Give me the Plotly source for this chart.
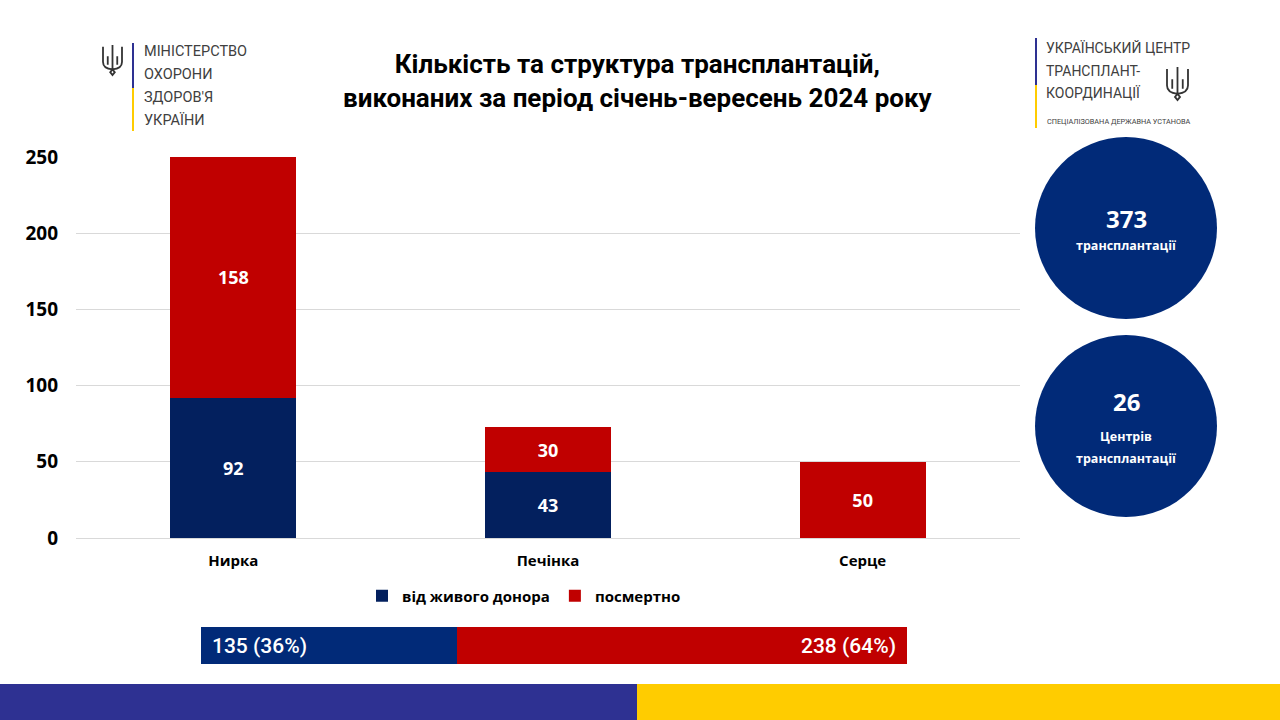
import plotly.graph_objects as go

# ---------------- data ----------------
organs = ["Нирка", "Печінка", "Серце"]
living_donor = [92, 43, 0]
deceased = [158, 30, 50]
series_names = ["від живого донора", "посмертно"]
total_transplants = 373
centers_count = 26
y_ticks = [0, 50, 100, 150, 200, 250]

title_lines = ["Кількість та структура трансплантацій,",
               "виконаних за період січень-вересень 2024 року"]

NAVY = "#03205E"
RED = "#C00000"
CIRCLE = "#012A78"
SUM_NAVY = "#012A78"

W, H = 1280, 720
def px(x): return x / W
def py(y): return 1 - y / H

fig = go.Figure()

bar_font = dict(color="white", size=18, family="Open Sans", weight="bold")
fig.add_trace(go.Bar(
    x=organs, y=living_donor, name=series_names[0], marker_color=NAVY,
    marker_line_width=0,
    text=[str(v) if v else "" for v in living_donor],
    textposition="inside", insidetextanchor="middle", textangle=0,
    textfont=bar_font, xaxis="x", yaxis="y"))
fig.add_trace(go.Bar(
    x=organs, y=deceased, name=series_names[1], marker_color=RED,
    marker_line_width=0,
    text=[str(v) if v else "" for v in deceased],
    textposition="inside", insidetextanchor="middle", textangle=0,
    textfont=bar_font, xaxis="x", yaxis="y"))

# summary bar
sum_living = sum(living_donor)
sum_dec = sum(deceased)
tot = sum_living + sum_dec
fig.add_trace(go.Bar(
    y=[0], x=[sum_living], orientation="h", width=1, marker_color=SUM_NAVY,
    marker_line_width=0, showlegend=False, xaxis="x2", yaxis="y2", hoverinfo="skip"))
fig.add_trace(go.Bar(
    y=[0], x=[sum_dec], orientation="h", width=1, marker_color=RED,
    marker_line_width=0, showlegend=False, xaxis="x2", yaxis="y2", hoverinfo="skip"))

shapes = []
annotations = []

def ann(x, y, text, font, xanchor="center", yanchor="middle", **kw):
    d = dict(x=x, y=y, xref="paper", yref="paper", showarrow=False, text=text,
             font=font, xanchor=xanchor, yanchor=yanchor)
    d.update(kw)
    annotations.append(d)

sum_font = dict(family="Roboto", size=21, color="white", weight=500)
annotations.append(dict(x=0, y=0, xref="x2", yref="y2", showarrow=False,
                        xanchor="left", yanchor="middle", xshift=9,
                        text=f"{sum_living} ({round(100*sum_living/tot)}%)", font=sum_font))
annotations.append(dict(x=tot, y=0, xref="x2", yref="y2", showarrow=False,
                        xanchor="right", yanchor="middle", xshift=-9,
                        text=f"{sum_dec} ({round(100*sum_dec/tot)}%)", font=sum_font))

# title
ann(px(638), py(81), "<br>".join(title_lines),
    dict(family="Roboto", size=26, color="black", weight="bold"), align="center")

# circles
for cy in (228, 426):
    shapes.append(dict(type="circle", xref="paper", yref="paper",
                       x0=px(1035), x1=px(1217), y0=py(cy + 91), y1=py(cy - 91),
                       fillcolor=CIRCLE, line=dict(width=0), layer="below"))
big = dict(family="Open Sans", size=24, color="white", weight="bold")
small = dict(family="Open Sans", size=12.5, color="white", weight="bold")
ann(px(1126), py(218), str(total_transplants), big)
ann(px(1126), py(245), "трансплантації", small)
ann(px(1126), py(401), str(centers_count), big)
ann(px(1126), py(437), "Центрів", small)
ann(px(1126), py(459), "трансплантації", small)

# bottom strip
shapes.append(dict(type="rect", xref="paper", yref="paper", x0=0, x1=px(637),
                   y0=0, y1=py(684), fillcolor="#2E3192", line=dict(width=0)))
shapes.append(dict(type="rect", xref="paper", yref="paper", x0=px(637), x1=1,
                   y0=0, y1=py(684), fillcolor="#FFCC00", line=dict(width=0)))

# logos: vertical bars
def vline(x, y0, y1, color):
    shapes.append(dict(type="line", xref="paper", yref="paper", x0=px(x), x1=px(x),
                       y0=py(y0), y1=py(y1), line=dict(color=color, width=2)))
vline(133, 43, 88, "#2E3192")
vline(133, 88, 131, "#FFCC00")
vline(1036, 38, 85, "#2E3192")
vline(1036, 85, 128, "#FFCC00")

def trident(x0, y0, w, h):
    # simplified trident in local 10x16 units
    def P(u, v):
        return f"{px(x0 + u * w / 10):.5f},{py(y0 + v * h / 16):.5f}"
    path = (f"M{P(5,0)} L{P(5,13)} "
            f"M{P(0,1)} L{P(0,9)} Q{P(0,12.5)} {P(5,13)} "
            f"M{P(10,1)} L{P(10,9)} Q{P(10,12.5)} {P(5,13)} "
            f"M{P(2.5,6)} L{P(2.5,10.5)} M{P(7.5,6)} L{P(7.5,10.5)} "
            f"M{P(5,13)} L{P(3.8,14.5)} L{P(5,16)} L{P(6.2,14.5)} Z")
    shapes.append(dict(type="path", xref="paper", yref="paper", path=path,
                       line=dict(color="#333333", width=1.8)))
trident(103, 45, 19, 30)
trident(1167, 67, 21, 33)

logo_font = dict(family="Roboto", size=14.5, color="#404040")
for i, t in enumerate(["МІНІСТЕРСТВО", "ОХОРОНИ", "ЗДОРОВ'Я", "УКРАЇНИ"]):
    ann(px(142), py(52 + i * 22.7), t, logo_font, xanchor="left")
for i, t in enumerate(["УКРАЇНСЬКИЙ ЦЕНТР", "ТРАНСПЛАНТ-", "КООРДИНАЦІЇ"]):
    ann(px(1044), py(48 + i * 22.7), t, dict(family="Roboto", size=14, color="#404040"),
        xanchor="left")
ann(px(1045), py(121), "СПЕЦІАЛІЗОВАНА ДЕРЖАВНА УСТАНОВА",
    dict(family="Roboto", size=7.3, color="#404040"), xanchor="left")

fig.update_layout(
    width=W, height=H, margin=dict(l=0, r=0, t=0, b=0),
    paper_bgcolor="white", plot_bgcolor="white",
    barmode="stack", bargap=0.6,
    shapes=shapes, annotations=annotations,
    showlegend=True,
    legend=dict(orientation="h", x=px(524), xanchor="center", y=py(596), yanchor="middle",
                font=dict(family="Open Sans", size=15, color="black", weight="bold"),
                itemwidth=30, traceorder="normal", bgcolor="rgba(0,0,0,0)"),
    xaxis=dict(domain=[px(76), px(1020)], type="category", showgrid=False, showline=False,
               zeroline=False, ticks="", automargin=False, ticklabelstandoff=12,
               tickfont=dict(family="Open Sans", size=15, color="black", weight="bold")),
    yaxis=dict(domain=[py(538), py(157)], range=[0, 250], tickvals=y_ticks,
               showgrid=True, gridcolor="#D9D9D9", gridwidth=1, zeroline=True,
               zerolinecolor="#D9D9D9", zerolinewidth=1, showline=False, ticks="",
               automargin=False, ticklabelstandoff=17,
               tickfont=dict(family="Open Sans", size=19, color="black", weight="bold")),
    xaxis2=dict(domain=[px(201), px(907)], range=[0, tot], visible=False, anchor="y2"),
    yaxis2=dict(domain=[py(664), py(627)], range=[-0.5, 0.5], visible=False, anchor="x2"),
    hovermode=False,
)

fig.write_html("out.html", config={"displayModeBar": False},
               post_script="document.body.style.margin='0';document.body.style.overflow='hidden';")
